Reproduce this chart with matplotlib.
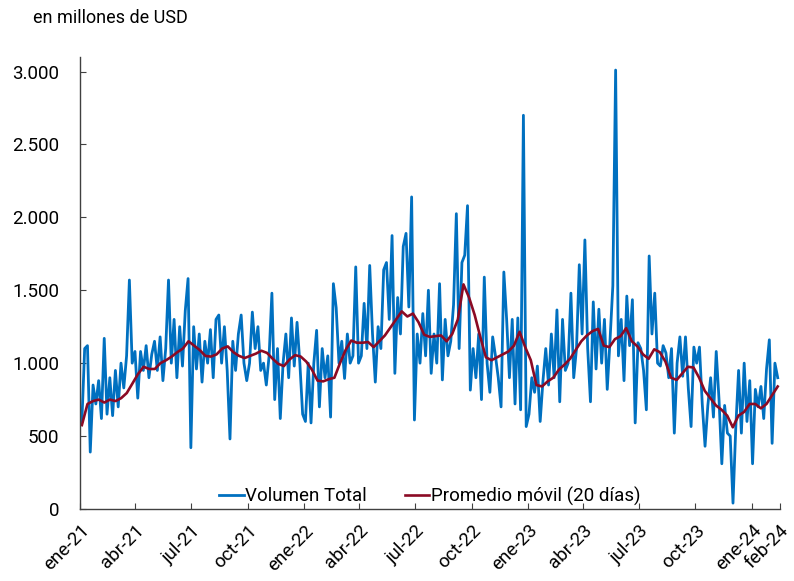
import matplotlib
matplotlib.use("Agg")
import matplotlib.pyplot as plt
import matplotlib.ticker as mticker
import pandas as pd
import numpy as np

# volumen diario (muestreado), en millones de USD
vol_2021 = [600, 1100, 1120, 390, 850, 720, 880, 620, 1170, 650, 900, 640, 950, 700, 1000, 830, 1050, 1570, 1000, 1080,
            760, 1080, 950, 1120, 900, 1060, 1150, 950, 1180, 880, 1100, 1570, 1000, 1300, 900, 1250, 980, 1360, 1580, 420,
            1250, 960, 1200, 870, 1150, 1000, 1230, 900, 1300, 1330, 1000, 1250, 950, 480, 1150, 950, 1200, 1330, 1000, 880,
            1000, 1350, 1100, 1250, 950, 1000, 850, 1050, 1480, 750, 1100, 620, 1000, 1200, 900, 1310, 980, 1280, 1000, 650]
vol_2022 = [600, 1000, 590, 1000, 1225, 700, 1100, 900, 1050, 630, 1545, 1380, 1000, 1150, 895, 1200, 1000, 1050, 1660, 1000,
            1050, 1410, 1100, 1670, 1200, 870, 1250, 1100, 1640, 1690, 1300, 1875, 930, 1450, 1200, 1800, 1890, 1385, 2140, 610,
            1200, 1000, 1340, 1050, 1500, 930, 1200, 1000, 1545, 885, 1300, 1050, 1150, 1400, 2025, 1100, 1690, 1740, 2080, 815,
            1100, 900, 1200, 750, 1590, 1000, 800, 1180, 1050, 900, 700, 1625, 1300, 900, 1300, 720, 1310, 680, 2700, 565]
vol_2023 = [650, 900, 800, 980, 600, 880, 1100, 850, 1200, 900, 1365, 735, 1300, 950, 1000, 1480, 900, 1100, 1675, 1200,
            1845, 1100, 735, 1420, 960, 1370, 1000, 1300, 820, 1160, 1530, 3010, 1050, 1300, 880, 1460, 1120, 1435, 590, 1140,
            1100, 950, 680, 1735, 1200, 1480, 1000, 980, 1120, 1070, 900, 1100, 520, 1000, 1180, 910, 1180, 830, 565, 1110,
            1000, 1110, 720, 430, 710, 900, 630, 1080, 750, 310, 710, 520, 500, 40, 560, 950, 520, 1000, 600, 880]
vol_2024 = [310, 820, 700, 840, 620, 960, 1160, 450, 1000, 900]

# promedio movil 20 dias
ma_vals = [575, 720, 740, 750, 730, 750, 740, 760, 795, 860,
           925, 975, 960, 960, 1000, 1020, 1045, 1075, 1100, 1150,
           1120, 1090, 1050, 1045, 1060, 1100, 1115, 1075, 1050, 1035,
           1050, 1065, 1085, 1070, 1030, 995, 980, 1025, 1055, 1045,
           1010, 955, 880, 875, 890, 900, 1000, 1090, 1155, 1140,
           1140, 1145, 1110, 1150, 1190, 1245, 1300, 1355, 1320, 1340,
           1280, 1195, 1180, 1185, 1190, 1150, 1200, 1300, 1540, 1450,
           1330, 1180, 1040, 1020, 1040, 1060, 1080, 1120, 1215, 1110,
           1020, 850, 840, 875, 900, 955, 990, 1030, 1090, 1150,
           1190, 1220, 1235, 1120, 1110, 1165, 1185, 1240, 1150, 1115,
           1060, 1030, 1095, 1075, 1010, 900, 885, 930, 975, 970,
           900, 810, 760, 710, 680, 640, 560, 640, 665, 720,
           720, 690, 720, 780, 840]

tick_dates = ["2021-01-01", "2021-04-01", "2021-07-01", "2021-10-01", "2022-01-01", "2022-04-01",
              "2022-07-01", "2022-10-01", "2023-01-01", "2023-04-01", "2023-07-01", "2023-10-01",
              "2024-01-01", "2024-02-15"]
tick_labels = ["ene-21", "abr-21", "jul-21", "oct-21", "ene-22", "abr-22", "jul-22", "oct-22",
               "ene-23", "abr-23", "jul-23", "oct-23", "ene-24", "feb-24"]

volumen = vol_2021 + vol_2022 + vol_2023 + vol_2024
vol_dates = pd.date_range("2021-01-04", "2024-02-12", periods=len(volumen))
ma_dates = pd.date_range("2021-01-04", "2024-02-12", periods=len(ma_vals))

plt.rcParams["font.family"] = ["Roboto", "DejaVu Sans"]

fig = plt.figure(figsize=(7.94, 5.81), dpi=100)
ax = fig.add_axes([0.1008, 0.124, 0.881, 0.778])

ax.plot(vol_dates, volumen, color="#0070C0", lw=2.0, label="Volumen Total")
ax.plot(ma_dates, ma_vals, color="#8B0A24", lw=1.9, label="Promedio móvil (20 días)")

ax.set_ylim(0, 3100)
ax.set_xlim(pd.Timestamp("2021-01-01"), pd.Timestamp("2024-02-15"))
ax.set_yticks([0, 500, 1000, 1500, 2000, 2500, 3000])
ax.yaxis.set_major_formatter(mticker.FuncFormatter(lambda v, p: f"{int(v):,}".replace(",", ".")))
ax.set_xticks(pd.to_datetime(tick_dates))
ax.set_xticklabels(tick_labels, rotation=45, ha="right", va="top", rotation_mode="anchor")

ax.tick_params(axis="both", direction="in", length=4, labelsize=13.5, color="#404040")
ax.tick_params(axis="x", pad=9)
ax.tick_params(axis="y", pad=15)
for s in ["top", "right"]:
    ax.spines[s].set_visible(False)
for s in ["left", "bottom"]:
    ax.spines[s].set_color("#404040")
    ax.spines[s].set_linewidth(1.0)

ax.legend(loc="lower center", ncol=2, frameon=False, fontsize=13.5, handlelength=1.3,
          handletextpad=0.1, columnspacing=2.0, bbox_to_anchor=(0.5, -0.03))

fig.text(0.042, 0.985, "en millones de USD", fontsize=13, va="top", ha="left")

plt.savefig("out.png", dpi=100)
